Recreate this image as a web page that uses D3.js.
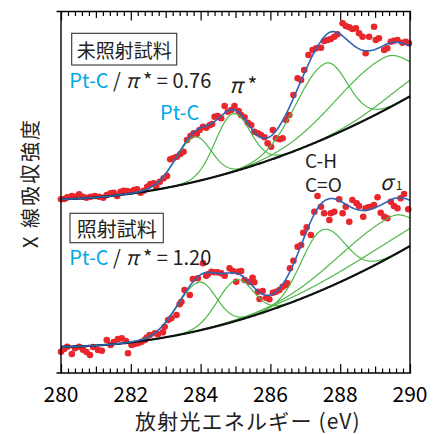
<!DOCTYPE html>
<html><head><meta charset="utf-8">
<script src="https://cdn.jsdelivr.net/npm/d3@7"></script>
<style>body{margin:0;background:#fff}svg{display:block}</style>
</head><body>
<svg id="c" width="444" height="434"></svg>
<script>
// ---- data (energy in eV, intensity in arbitrary units) ----
const majorTicks = [280, 282, 284, 286, 288, 290];
const sampleNames = ["未照射試料", "照射試料"];
const ratioLabels = ["0.76", "1.20"];

const topDots = [[280.00,173.7],[280.09,174.0],[280.18,175.7],[280.31,177.0],[280.40,176.3],[280.52,178.7],[280.62,176.3],[280.73,175.3],[280.85,176.3],[280.97,177.0],[281.09,176.3],[281.21,175.3],[281.31,178.0],[281.42,179.7],[281.51,180.3],[281.61,177.0],[281.71,181.3],[281.80,182.3],[281.89,182.0],[281.99,181.3],[282.09,183.0],[282.18,183.7],[282.28,180.3],[282.37,182.3],[282.47,186.3],[282.56,189.0],[282.66,189.7],[282.73,186.3],[282.83,191.3],[282.94,194.7],[283.04,197.0],[283.13,213.7],[283.23,215.0],[283.32,216.3],[283.42,219.0],[283.51,221.3],[283.61,233.0],[283.71,237.0],[283.80,239.7],[283.89,239.0],[283.97,243.0],[284.07,246.3],[284.16,245.3],[284.26,247.7],[284.33,249.0],[284.40,256.3],[284.49,257.0],[284.59,254.7],[284.69,267.0],[284.78,261.3],[284.88,263.0],[284.97,267.0],[285.09,262.0],[285.16,258.0],[285.26,255.7],[285.35,250.3],[285.45,248.0],[285.54,241.3],[285.64,239.7],[285.73,238.0],[285.83,235.7],[285.92,229.7],[286.02,226.3],[286.07,243.0],[286.16,234.7],[286.26,233.7],[286.35,234.7],[286.45,253.0],[286.54,258.0],[286.66,278.0],[286.78,294.7],[286.88,293.0],[286.97,303.0],[287.09,318.0],[287.21,323.0],[287.31,324.7],[287.45,325.3],[287.54,332.0],[287.64,333.0],[287.73,334.0],[287.83,336.3],[287.92,338.7],[288.07,349.7],[288.16,347.0],[288.26,345.7],[288.35,344.0],[288.45,344.7],[288.54,339.7],[288.64,336.3],[288.73,319.7],[288.83,336.3],[288.97,346.3],[289.02,333.0],[289.11,334.7],[289.26,323.0],[289.35,324.7],[289.45,331.3],[289.54,332.3],[289.64,333.0],[289.78,330.3],[289.88,331.3],[289.97,329.7]];

const botDots = [[280.00,21.3],[280.09,24.0],[280.18,26.3],[280.31,19.0],[280.40,24.7],[280.52,26.3],[280.63,23.3],[280.73,21.0],[280.83,18.0],[280.92,26.0],[281.06,23.0],[281.17,22.3],[281.31,33.0],[281.42,28.0],[281.51,31.0],[281.63,34.0],[281.74,34.7],[281.86,32.0],[281.92,19.7],[282.02,28.0],[282.11,29.0],[282.21,29.7],[282.31,31.3],[282.40,33.0],[282.45,35.3],[282.54,38.0],[282.69,39.7],[282.78,38.7],[282.92,40.7],[282.97,46.3],[283.07,53.0],[283.16,54.7],[283.31,58.0],[283.40,68.7],[283.45,71.3],[283.54,83.0],[283.69,78.0],[283.78,94.0],[283.92,94.7],[284.07,109.7],[284.16,97.3],[284.21,98.7],[284.31,101.3],[284.40,100.7],[284.49,100.7],[284.59,99.7],[284.69,97.3],[284.83,104.7],[284.92,102.0],[285.02,91.3],[285.07,101.3],[285.16,102.0],[285.26,93.0],[285.40,91.3],[285.49,95.3],[285.54,90.7],[285.64,81.3],[285.69,74.0],[285.78,82.0],[285.88,75.3],[285.97,73.7],[286.07,80.3],[286.16,81.3],[286.26,83.0],[286.35,86.3],[286.45,88.0],[286.49,89.7],[286.56,104.7],[286.66,112.3],[286.78,126.3],[286.88,128.0],[286.94,140.3],[287.04,145.7],[287.16,138.0],[287.26,161.3],[287.35,177.0],[287.45,166.3],[287.54,159.7],[287.69,153.0],[287.73,159.7],[287.83,161.3],[287.97,173.7],[288.07,159.7],[288.16,166.3],[288.26,151.3],[288.35,173.0],[288.47,169.7],[288.54,167.0],[288.66,156.3],[288.73,164.7],[288.81,165.7],[288.88,166.3],[288.97,168.0],[289.07,175.7],[289.16,160.3],[289.26,156.3],[289.35,154.7],[289.45,171.3],[289.54,167.0],[289.64,164.7],[289.73,174.7],[289.83,179.0],[289.95,163.7]];

// fitted background: a + b*(E-280) + c*(E-280)^2
const topBackground = [173.7, 1.0, 0.93];
const botBackground = [26.3, 0.17, 0.99];

// fitted peaks: Pt-C, pi*, C-H/C=O, sigma1, broad sigma*
const peakNames   = ["Pt-C", "π*", "C-H", "σ1", "σ*"];
const topCenter   = [283.83, 284.92, 287.57, 289.26, 290.5];
const topHeight   = [44.7, 58.0, 75.0, 52.7, 17.5];
const topWidthL   = [0.55, 0.50, 0.85, 1.45, 1.2];
const topWidthR   = [0.47, 0.50, 0.63, 0.80, 1.2];
const botCenter   = [283.95, 285.02, 287.48, 289.43, 290.5];
const botHeight   = [48.3, 40.9, 60.0, 40.0, 18.0];
const botWidthL   = [0.62, 0.54, 0.60, 1.60, 2.4];
const botWidthR   = [0.49, 0.48, 0.65, 0.68, 2.4];

// ---- drawing ----
const svg = d3.select("#c");
const L = 61, R = 410, T = 11.5, B = 373;
const x = d3.scaleLinear().domain([280, 290]).range([L, R]);
const y = d3.scaleLinear().domain([0, 361.5]).range([B, T]);
const FONT = "'Noto Sans CJK JP', 'Noto Sans', sans-serif";
const INK = "#231f20", CYAN = "#00a8e6";

function bgVal(E, p) { const t = E - 280; return p[0] + p[1]*t + p[2]*t*t; }
function peakVal(E, c, h, wl, wr) { const s = E < c ? wl : wr; return h * Math.exp(-((E - c) ** 2) / (2 * s * s)); }

const grid = d3.range(280, 290.0001, 0.02);
const line = d3.line().x(d => x(d[0])).y(d => y(d[1])).curve(d3.curveLinear);

function drawSpectrum(dots, bgp, cen, hei, wl, wr) {
  const g = svg.append("g");
  g.selectAll("circle").data(dots).join("circle")
    .attr("cx", d => x(d[0])).attr("cy", d => y(d[1])).attr("r", 3.3)
    .attr("fill", "#e8262b");
  cen.forEach((c, i) => {
    const pts = grid.map(E => [E, bgVal(E, bgp) + peakVal(E, c, hei[i], wl[i], wr[i])]);
    g.append("path").attr("d", line(pts)).attr("fill", "none")
      .attr("stroke", "#4fb848").attr("stroke-width", 1.2);
  });
  g.append("path").attr("d", line(grid.map(E => [E, bgVal(E, bgp)])))
    .attr("fill", "none").attr("stroke", "#111").attr("stroke-width", 2.2);
  const tot = grid.map(E => [E, bgVal(E, bgp) + d3.sum(cen, (c, i) => peakVal(E, c, hei[i], wl[i], wr[i]))]);
  g.append("path").attr("d", line(tot)).attr("fill", "none")
    .attr("stroke", "#2f63b6").attr("stroke-width", 1.6);
}
drawSpectrum(topDots, topBackground, topCenter, topHeight, topWidthL, topWidthR);
drawSpectrum(botDots, botBackground, botCenter, botHeight, botWidthL, botWidthR);

// frame
const fr = svg.append("g").attr("stroke", "#000").attr("stroke-width", 1.4);
fr.append("line").attr("x1", 56.5).attr("x2", 411).attr("y1", B).attr("y2", B);
fr.append("line").attr("x1", 56.5).attr("x2", 411).attr("y1", T).attr("y2", T);
fr.append("line").attr("x1", L).attr("x2", L).attr("y1", T).attr("y2", B);
fr.append("line").attr("x1", R).attr("x2", R).attr("y1", T).attr("y2", B);

// ticks (inward, bottom and top)
function tickAxis(vals, len) {
  const gb = svg.append("g").attr("transform", `translate(0,${B})`)
    .call(d3.axisBottom(x).tickValues(vals).tickSize(-len).tickFormat(""));
  const gt = svg.append("g").attr("transform", `translate(0,${T})`)
    .call(d3.axisTop(x).tickValues(vals).tickSize(-len).tickFormat(""));
  [gb, gt].forEach(g => {
    g.select(".domain").remove();
    g.selectAll("line").attr("stroke", "#000").attr("stroke-width", 1.2);
  });
}
tickAxis(d3.range(280.2, 290, 0.2).filter(v => Math.abs(v - Math.round(v)) > 0.05), 4.5);
tickAxis(d3.range(281, 290, 2), 6.5);
tickAxis(majorTicks, 9);

svg.append("g").selectAll("text").data(majorTicks).join("text")
  .attr("x", d => x(d)).attr("y", 402).attr("text-anchor", "middle")
  .attr("font-family", FONT).attr("font-size", 21).attr("fill", "#000").text(d => d);

svg.append("text").attr("x", 135).attr("y", 428.5)
  .attr("font-family", FONT).attr("font-size", 21).attr("letter-spacing", 1.2)
  .attr("fill", "#222").text("放射光エネルギー (eV)");

svg.append("text").attr("transform", "translate(29,183) rotate(-90)")
  .attr("text-anchor", "middle").attr("dominant-baseline", "central")
  .attr("font-family", FONT).attr("font-size", 20).attr("letter-spacing", 2)
  .attr("fill", "#222").text("X 線吸収強度");

// annotations
function box(x0, y0, w, h, txt, fs) {
  svg.append("rect").attr("x", x0).attr("y", y0).attr("width", w).attr("height", h)
    .attr("fill", "#fff").attr("stroke", "#333").attr("stroke-width", 1.1);
  svg.append("text").attr("x", x0 + w / 2).attr("y", y0 + h / 2)
    .attr("text-anchor", "middle").attr("dominant-baseline", "central")
    .attr("font-family", FONT).attr("font-size", fs).attr("fill", INK).text(txt);
}
box(71.7, 33.3, 105, 31.7, sampleNames[0], 19);
box(70, 213.3, 93.3, 29.4, sampleNames[1], 20);

function ratio(x0, y0, val) {
  const t = svg.append("text").attr("x", x0).attr("y", y0)
    .attr("font-family", FONT).attr("font-size", 20).attr("fill", INK);
  t.append("tspan").attr("fill", CYAN).text("Pt-C");
  t.append("tspan").text(" / ");
  t.append("tspan").attr("font-style", "italic").text("π");
  t.append("tspan").text(" * = " + val);
}
ratio(69.3, 87.5, ratioLabels[0]);
ratio(69.3, 265, ratioLabels[1]);

const pi = svg.append("text").attr("x", 229).attr("y", 93)
  .attr("font-family", FONT).attr("font-size", 21).attr("fill", INK);
pi.append("tspan").attr("font-style", "italic").text("π");
pi.append("tspan").text(" *");

svg.append("text").attr("x", 160).attr("y", 120).attr("font-family", FONT)
  .attr("font-size", 20).attr("fill", CYAN).text("Pt-C");

svg.append("text").attr("x", 305).attr("y", 168).attr("font-family", FONT)
  .attr("font-size", 19).attr("fill", INK).text("C-H");
svg.append("text").attr("x", 305).attr("y", 192).attr("font-family", FONT)
  .attr("font-size", 19).attr("fill", INK).text("C=O");

const sg = svg.append("text").attr("x", 380).attr("y", 189.5)
  .attr("font-family", FONT).attr("font-size", 21).attr("fill", INK);
sg.append("tspan").attr("font-style", "italic").text("σ");
sg.append("tspan").attr("font-size", 12).attr("dx", 3).text("1");
</script>
</body></html>
